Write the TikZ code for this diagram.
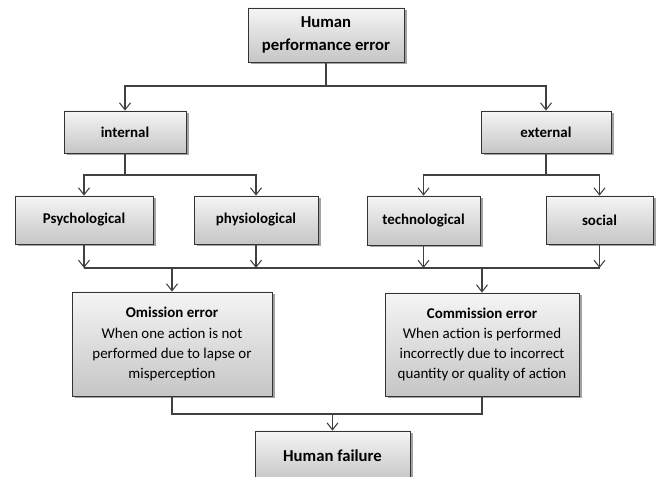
\documentclass[tikz,border=0pt]{standalone}
\usepackage{fontspec}
\setmainfont{Carlito}
\usepackage{xcolor}
\usetikzlibrary{arrows.meta}
\usetikzlibrary{positioning,calc,shadows}
\tikzset{
    block/.style={
        draw=black!80,
        rectangle,
        top color=gray!8,
        bottom color=gray!45,
        drop shadow={shadow xshift=0.5mm, shadow yshift=-0.5mm, fill=black!45, opacity=0.8},
        align=center,
        inner sep=2pt,
        font=\fontsize{8.5}{11.4}\selectfont\bfseries
    },
    bigblock/.style={
        block,
        font=\fontsize{9.5}{13.5}\selectfont\bfseries
    },
    textblock/.style={
        block,
        font=\fontsize{8.5}{11.4}\selectfont
    },
    link/.style={
        draw=black!75,
        -{Straight Barb[length=1.4mm, width=2.2mm]},
        semithick
    },
    plain/.style={
        draw=black!75,
        semithick
    }
}

\begin{document}
\begin{tikzpicture}
    \useasboundingbox (0,0) rectangle (13.2,9.54);

    % Boxes
    \node[bigblock, minimum width=3.12cm, minimum height=1.08cm] (hpe) at (6.52,8.84) {Human\\performance error};
    \node[block, minimum width=2.44cm, minimum height=0.84cm] (internal) at (2.5,6.9) {internal};
    \node[block, minimum width=2.6cm, minimum height=0.84cm] (external) at (10.92,6.9) {external};
    \node[block, minimum width=2.76cm, minimum height=0.96cm] (psych) at (1.68,5.14) {Psychological};
    \node[block, minimum width=2.48cm, minimum height=0.96cm] (physio) at (5.12,5.14) {physiological};
    \node[block, minimum width=2.26cm, minimum height=0.98cm] (techno) at (8.47,5.13) {technological};
    \node[block, minimum width=2.14cm, minimum height=0.96cm] (social) at (11.99,5.14) {social};
    \node[textblock, minimum width=4.0cm, minimum height=2.08cm] (omission) at (3.44,2.66)
        {\textbf{Omission error}\\When one action is not\\performed due to lapse or\\misperception};
    \node[textblock, minimum width=3.88cm, minimum height=2.06cm] (commission) at (9.64,2.65)
        {\textbf{Commission error}\\When action is performed\\incorrectly due to incorrect\\quantity or quality of action};
    \node[bigblock, minimum width=3.1cm, minimum height=1.0cm] (failure) at (6.65,0.42) {Human failure};

    % Junction points
    \coordinate (j1) at (6.52,7.82);
    \coordinate (j2) at (2.5,6.04);
    \coordinate (j3) at (10.92,6.04);
    \coordinate (bus) at (6.8,4.18);
    \coordinate (j4) at (6.65,1.26);

    % First split
    \draw[plain] (hpe) -- (j1);
    \draw[link] (j1) -| (internal);
    \draw[link] (j1) -| (external);

    % Second split
    \draw[plain] (internal) -- (j2);
    \draw[link] (j2) -| (psych);
    \draw[link] (j2) -| (physio);
    \draw[plain] (external) -- (j3);
    \draw[link] (j3) -| (techno);
    \draw[link] (j3) -| (social);

    % Collecting line
    \draw[link] (psych) -- (psych |- bus);
    \draw[link] (physio) -- (physio |- bus);
    \draw[link] (techno) -- (techno |- bus);
    \draw[link] (social) -- (social |- bus);
    \draw[plain] (psych |- bus) -- (social |- bus);
    \draw[link] (omission |- bus) -- (omission);
    \draw[link] (commission |- bus) -- (commission);

    % Into failure
    \draw[plain] (omission) |- (j4);
    \draw[plain] (commission) |- (j4);
    \draw[link] (j4) -- (failure);
\end{tikzpicture}
\end{document}
